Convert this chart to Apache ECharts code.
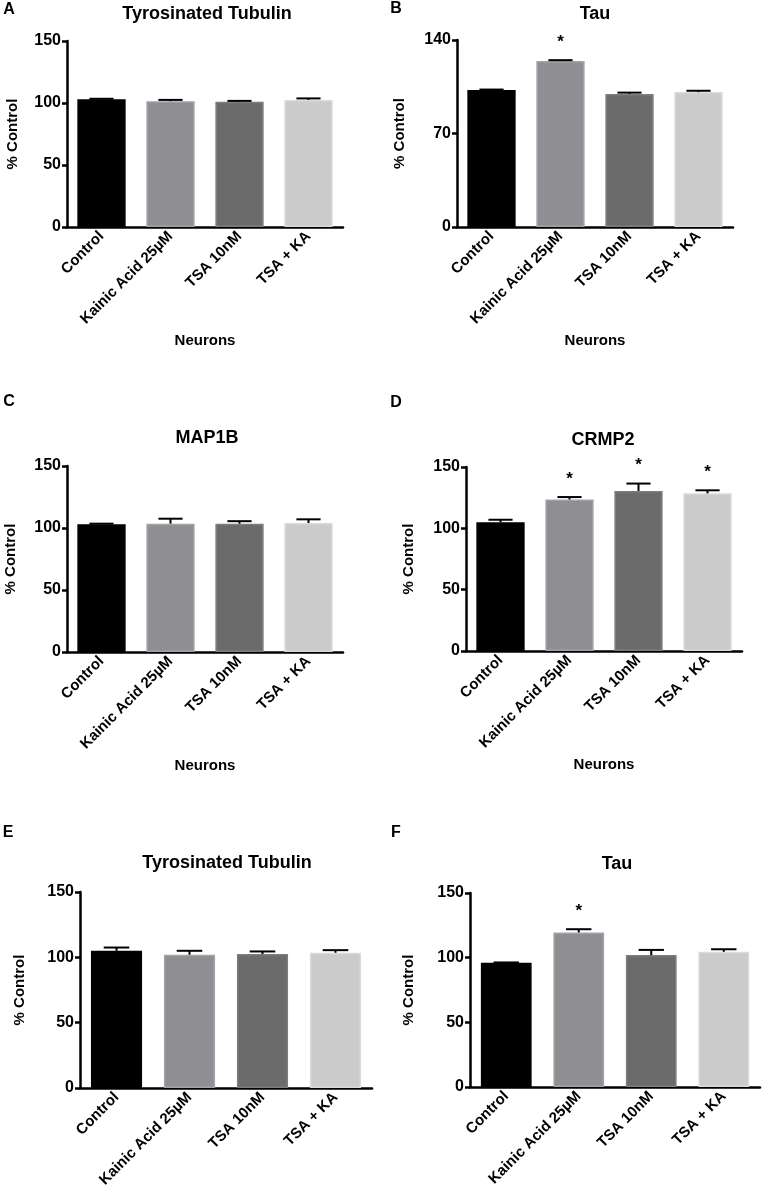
<!DOCTYPE html>
<html>
<head>
<meta charset="utf-8">
<script src="https://cdn.jsdelivr.net/npm/echarts@6/dist/echarts.min.js"></script>
<style>
html, body { margin: 0; padding: 0; background: #fff; }
#main { width: 765px; height: 1193px; }
</style>
</head>
<body>
<div id="main"></div>
<script>
var categories = ['Control', 'Kainic Acid 25\u00b5M', 'TSA 10nM', 'TSA + KA'];

// panel A - Tyrosinated Tubulin
var tubulinA = [103, 101.5, 101, 102.5];
var tubulinAErr = [0.4, 1, 0.7, 1.2];
var tubulinASig = [0, 0, 0, 0];
// panel B - Tau
var tauB = [102.6, 124.3, 99.6, 101];
var tauBErr = [0.3, 0.6, 1, 1];
var tauBSig = [0, 1, 0, 0];
// panel C - MAP1B
var map1bC = [103, 103.5, 103.5, 104];
var map1bCErr = [0.5, 4, 2, 3];
var map1bCSig = [0, 0, 0, 0];
// panel D - CRMP2
var crmp2D = [105, 123.5, 130.5, 128.5];
var crmp2DErr = [2, 2, 6, 2.5];
var crmp2DSig = [0, 1, 1, 1];
// panel E - Tyrosinated Tubulin
var tubulinE = [105, 102, 102.5, 103.5];
var tubulinEErr = [2.5, 3, 2, 2];
var tubulinESig = [0, 0, 0, 0];
// panel F - Tau
var tauF = [96, 119.5, 102, 104.5];
var tauFErr = [0.3, 2.5, 4, 2];
var tauFSig = [0, 1, 0, 0];

var yMax = [150, 140, 150, 150, 150, 150];
var yStep = [50, 70, 50, 50, 50, 50];

var barColors = ['#000000', '#8e8e93', '#6b6b6b', '#cbcbcb'];
var barBorders = ['#000000', '#a3a3a7', '#7d7d7d', '#dadada'];

var font = '"Liberation Sans", Arial, sans-serif';

var panels = [
    {letter: 'A', title: 'Tyrosinated Tubulin', vals: tubulinA, err: tubulinAErr, sig: tubulinASig,
     grid: {left: 67, top: 41, width: 276, height: 186}, lx: 9, ly: 10, tx: 207, ty: 14, yGap: 47, xName: true},
    {letter: 'B', title: 'Tau', vals: tauB, err: tauBErr, sig: tauBSig,
     grid: {left: 457, top: 40, width: 276, height: 187}, lx: 396, ly: 9, tx: 595, ty: 14, yGap: 50, xName: true},
    {letter: 'C', title: 'MAP1B', vals: map1bC, err: map1bCErr, sig: map1bCSig,
     grid: {left: 67, top: 466, width: 276, height: 186}, lx: 9, ly: 402, tx: 207, ty: 438, yGap: 49, xName: true},
    {letter: 'D', title: 'CRMP2', vals: crmp2D, err: crmp2DErr, sig: crmp2DSig,
     grid: {left: 466, top: 467, width: 276, height: 184}, lx: 396, ly: 403, tx: 603, ty: 440, yGap: 50, xName: true},
    {letter: 'E', title: 'Tyrosinated Tubulin', vals: tubulinE, err: tubulinEErr, sig: tubulinESig,
     grid: {left: 80, top: 892, width: 292, height: 196}, lx: 8, ly: 833, tx: 227, ty: 863, yGap: 53, xName: false},
    {letter: 'F', title: 'Tau', vals: tauF, err: tauFErr, sig: tauFSig,
     grid: {left: 470, top: 893, width: 290, height: 194}, lx: 396, ly: 833, tx: 617, ty: 864, yGap: 54, xName: false}
];

function renderErr(params, api) {
    var i = api.value(0);
    var v = api.value(1);
    var e = api.value(2);
    var s = api.value(3);
    var top = api.coord([i, v]);
    var cap = api.coord([i, v + e]);
    var half = api.size([1, 0])[0] * 0.175;
    var lineStyle = {stroke: '#000', lineWidth: 2};
    var children = [
        {type: 'line', shape: {x1: top[0], y1: top[1], x2: cap[0], y2: cap[1]}, style: lineStyle},
        {type: 'line', shape: {x1: cap[0] - half, y1: cap[1], x2: cap[0] + half, y2: cap[1]}, style: lineStyle}
    ];
    if (s) {
        children.push({
            type: 'text',
            x: cap[0], y: cap[1] - 18,
            style: {text: '*', font: 'bold 17px ' + font, fill: '#000', align: 'center', verticalAlign: 'middle'}
        });
    }
    return {type: 'group', children: children};
}

var grids = [], xAxes = [], yAxes = [], series = [], graphics = [];

panels.forEach(function (p, k) {
    grids.push(p.grid);
    xAxes.push({
        type: 'category',
        gridIndex: k,
        data: categories,
        name: p.xName ? 'Neurons' : '',
        nameLocation: 'middle',
        nameGap: 106,
        nameTextStyle: {fontFamily: font, fontWeight: 'bold', fontSize: 15, color: '#000'},
        axisLine: {lineStyle: {color: '#000', width: 2.5}},
        axisTick: {alignWithLabel: true, length: 6, lineStyle: {color: '#000', width: 2.5}},
        axisLabel: {interval: 0, rotate: 45, margin: 7, fontFamily: font, fontWeight: 'bold', fontSize: 15, color: '#000'},
        splitLine: {show: false}
    });
    yAxes.push({
        type: 'value',
        gridIndex: k,
        min: 0,
        max: yMax[k],
        interval: yStep[k],
        name: '% Control',
        nameLocation: 'middle',
        nameRotate: 90,
        nameGap: p.yGap,
        nameTextStyle: {fontFamily: font, fontWeight: 'bold', fontSize: 15, color: '#000'},
        axisLine: {show: true, lineStyle: {color: '#000', width: 2.5}},
        axisTick: {show: true, length: 5, lineStyle: {color: '#000', width: 2.5}},
        axisLabel: {margin: 6, fontFamily: font, fontWeight: 'bold', fontSize: 16, color: '#000'},
        splitLine: {show: false}
    });
    series.push({
        type: 'bar',
        xAxisIndex: k,
        yAxisIndex: k,
        barCategoryGap: '30%',
        data: p.vals.map(function (v, i) {
            return {value: v, itemStyle: {color: barColors[i], borderColor: barBorders[i], borderWidth: 1.5}};
        }),
        silent: true
    });
    series.push({
        type: 'custom',
        xAxisIndex: k,
        yAxisIndex: k,
        clip: false,
        z: 5,
        renderItem: renderErr,
        encode: {x: 0, y: 1},
        data: p.vals.map(function (v, i) { return [i, v, p.err[i], p.sig[i]]; }),
        silent: true
    });
    graphics.push({
        type: 'text', x: p.lx, y: p.ly,
        style: {text: p.letter, font: 'bold 16px ' + font, fill: '#000', align: 'center', verticalAlign: 'middle'}
    });
    graphics.push({
        type: 'text', x: p.tx, y: p.ty,
        style: {text: p.title, font: 'bold 18px ' + font, fill: '#000', align: 'center', verticalAlign: 'middle'}
    });
});

var myChart = echarts.init(document.getElementById('main'));
var option = {
    backgroundColor: '#fff',
    animation: false,
    grid: grids,
    xAxis: xAxes,
    yAxis: yAxes,
    series: series,
    graphic: graphics
};
myChart.setOption(option);
</script>
</body>
</html>
